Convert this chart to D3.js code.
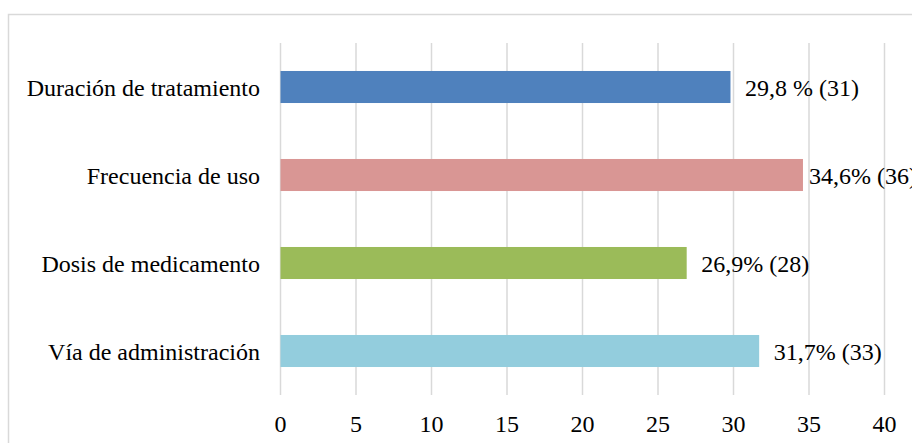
<!DOCTYPE html>
<html>
<head>
<meta charset="utf-8">
<script src="https://cdn.jsdelivr.net/npm/d3@7"></script>
<style>
  body { margin: 0; background: #fff; }
  #chart { width: 912px; height: 443px; }
  #chart text { font-family: "Liberation Serif", serif; font-size: 24px; fill: #000; }
</style>
</head>
<body>
<div id="chart"></div>
<script>
// Chart data
const categories = [
  "Duración de tratamiento",
  "Frecuencia de uso",
  "Dosis de medicamento",
  "Vía de administración",
];
const values = [29.8, 34.6, 26.9, 31.7];
const labels = ["29,8 % (31)", "34,6% (36)", "26,9% (28)", "31,7% (33)"];
const xTicks = [0, 5, 10, 15, 20, 25, 30, 35, 40];

const colors = ["#4f81bd", "#d99694", "#9bbb59", "#93cddd"];

const width = 912;
const height = 443;
const margin = { top: 43, right: 28, bottom: 48, left: 280 };

const svg = d3
  .select("#chart")
  .append("svg")
  .attr("width", width)
  .attr("height", height);

// Chart area border (runs past the right and bottom edges)
svg
  .append("rect")
  .attr("x", 8.5)
  .attr("y", 14.5)
  .attr("width", width)
  .attr("height", height)
  .attr("fill", "none")
  .attr("stroke", "#d9d9d9")
  .attr("stroke-width", 1.5);

const x = d3
  .scaleLinear()
  .domain([0, 40])
  .range([margin.left, width - margin.right]);

const y = d3
  .scaleBand()
  .domain(categories)
  .range([margin.top, height - margin.bottom])
  .paddingInner(0.636)
  .paddingOuter(0.318);

// Vertical gridlines
svg
  .append("g")
  .selectAll("line")
  .data(xTicks)
  .join("line")
  .attr("x1", (d) => x(d) + 0.5)
  .attr("x2", (d) => x(d) + 0.5)
  .attr("y1", margin.top)
  .attr("y2", height - margin.bottom)
  .attr("stroke", "#d9d9d9")
  .attr("stroke-width", 1.5);

// X axis tick labels
const xAxis = svg
  .append("g")
  .attr("transform", `translate(0,${height - margin.bottom})`)
  .call(d3.axisBottom(x).tickValues(xTicks).tickSize(0).tickPadding(20));
xAxis.select(".domain").remove();

// Category labels
const yAxis = svg
  .append("g")
  .attr("transform", `translate(${margin.left},0)`)
  .call(d3.axisLeft(y).tickSize(0).tickPadding(20));
yAxis.select(".domain").remove();
yAxis.selectAll("text").attr("dy", "0.37em");

// Bars
svg
  .append("g")
  .selectAll("rect")
  .data(values)
  .join("rect")
  .attr("x", x(0) + 0.5)
  .attr("y", (d, i) => y(categories[i]))
  .attr("width", (d) => x(d) - x(0))
  .attr("height", y.bandwidth())
  .attr("fill", (d, i) => colors[i]);

// Data labels (pulled in near the right edge)
svg
  .append("g")
  .selectAll("text")
  .data(values)
  .join("text")
  .attr("x", (d) => Math.min(x(d) + 15, 809))
  .attr("y", (d, i) => y(categories[i]) + y.bandwidth() / 2)
  .attr("dy", "0.37em")
  .text((d, i) => labels[i]);
</script>
</body>
</html>
